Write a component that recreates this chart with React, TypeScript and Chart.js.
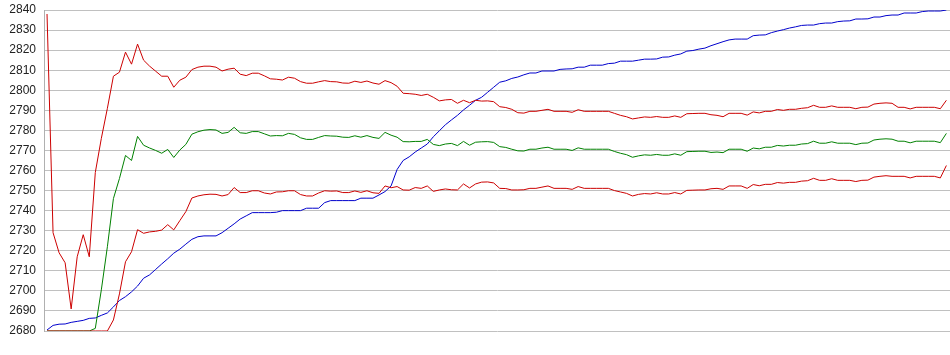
import React, { useEffect, useRef } from "react";
import { Chart, registerables } from "chart.js";

Chart.register(...registerables);

const yTicks = [2680, 2690, 2700, 2710, 2720, 2730, 2740, 2750, 2760, 2770, 2780, 2790, 2800, 2810, 2820, 2830, 2840];

const upperBand = [
  2838, 2729, 2719, 2714, 2691, 2717, 2728, 2717, 2759, 2776,
  2791, 2807, 2809, 2819, 2813, 2823, 2815, 2812, 2809.5, 2807,
  2807, 2801.5, 2805, 2806.5, 2810.3, 2811.5, 2812, 2812, 2811.5, 2809.6,
  2810.5, 2811, 2808, 2807.3, 2808.5, 2808.5, 2807.2, 2805.7, 2805.5, 2805.1,
  2806.5, 2806, 2804.3, 2803.5, 2803.5, 2804.2, 2804.8, 2804.3, 2804.2, 2803.6,
  2803.5, 2804.5, 2803.9, 2804.6, 2803.6, 2803, 2804.8, 2803.8, 2802, 2798.5,
  2798.3, 2798, 2797.4, 2798, 2796.5, 2794.7, 2795.2, 2795.4, 2793.5, 2795,
  2793.8, 2795, 2794.6, 2794.7, 2794.3, 2791.8, 2791.4, 2790.5, 2788.8, 2788.6,
  2789.5, 2789.5, 2790, 2790.5, 2789.5, 2789.5, 2789.5, 2789, 2790.3, 2789.5,
  2789.5, 2789.5, 2789.5, 2789.5, 2788.5, 2787.5, 2786.8, 2785.7, 2786.2, 2786.7,
  2786.5, 2786.9, 2786.5, 2786.5, 2787.2, 2786.5, 2788.3, 2788.4, 2788.5, 2788.5,
  2787.8, 2787.5, 2786.8, 2788.5, 2788.5, 2788.5, 2787.6, 2789.2, 2788.7, 2789.5,
  2789.5, 2790.4, 2790, 2790.5, 2790.5, 2791, 2791.3, 2792.5, 2791.5, 2791.5,
  2792.2, 2791.5, 2791.5, 2791.5, 2790.8, 2791.5, 2791.6, 2793.1, 2793.5, 2793.7,
  2793.5, 2791.5, 2791.5, 2790.7, 2791.5, 2791.5, 2791.5, 2791.5, 2790.8, 2795,
];

const middleLine = [
  2680, 2680, 2680, 2680, 2680, 2680, 2680, 2680, 2681.3, 2700.5,
  2722, 2746, 2756, 2767.5, 2765, 2777, 2772.6, 2771.2, 2770, 2768.6,
  2770.5, 2766.5, 2770.2, 2773, 2778.1, 2779.3, 2780.1, 2780.4, 2780.2, 2778.5,
  2779, 2781.5, 2778.8, 2778.5, 2779.4, 2779.4, 2778.3, 2777.2, 2777.4, 2777.3,
  2778.5, 2778, 2776.3, 2775.5, 2775.5, 2776.5, 2777.4, 2777.2, 2777.1, 2776.6,
  2776.5, 2777.3, 2776.6, 2777.4, 2776.5, 2776, 2779, 2777.6, 2776.6, 2774.4,
  2774.3, 2774.5, 2774.5, 2775.5, 2773, 2772.4, 2773.2, 2773.5, 2772.4, 2774.5,
  2772.6, 2774.1, 2774.3, 2774.4, 2774, 2771.9, 2771.5, 2770.6, 2769.8, 2769.7,
  2770.6, 2770.6, 2771.2, 2771.6, 2770.6, 2770.6, 2770.6, 2770, 2771.3, 2770.6,
  2770.6, 2770.6, 2770.6, 2770.6, 2769.5, 2768.6, 2767.9, 2766.6, 2767.3, 2767.8,
  2767.6, 2768, 2767.6, 2767.6, 2768.3, 2767.6, 2769.4, 2769.5, 2769.6, 2769.6,
  2769, 2769.2, 2768.9, 2770.6, 2770.6, 2770.6, 2769.6, 2771.2, 2770.8, 2771.6,
  2771.6, 2772.5, 2772.2, 2772.6, 2772.6, 2773.2, 2773.4, 2774.6, 2773.6, 2773.6,
  2774.3, 2773.6, 2773.6, 2773.6, 2772.9, 2773.6, 2773.7, 2775.2, 2775.6, 2775.8,
  2775.6, 2774.6, 2774.6, 2773.8, 2774.6, 2774.6, 2774.6, 2774.6, 2773.9, 2778.5,
];

const lowerBand = [
  2680, 2680, 2680, 2680, 2680, 2680, 2680, 2680, 2680, 2680,
  2680, 2685.5, 2698.5, 2714.5, 2719.5, 2730.5, 2728.7, 2729.4, 2729.7, 2730.3,
  2733, 2730.4, 2735, 2739.5, 2746.3, 2747.3, 2747.9, 2748.2, 2748.1, 2747.3,
  2748, 2751.5, 2749, 2749, 2749.9, 2749.9, 2748.8, 2748.3, 2749.3, 2749.4,
  2749.9, 2749.9, 2748, 2747.3, 2747.3, 2748.8, 2749.9, 2749.7, 2749.8, 2749,
  2749, 2749.8, 2749.1, 2749.9, 2748.9, 2748.6, 2752.3, 2751.4, 2752, 2750.3,
  2750.2, 2751.5, 2751.1, 2752.3, 2749.6, 2750.3, 2750.8, 2750.4, 2750.3, 2753.3,
  2751.3, 2753.3, 2754.2, 2754.3, 2753.8, 2751.1, 2751, 2750.3, 2750.3, 2750.4,
  2751.1, 2751.1, 2751.7, 2752.3, 2751.1, 2751.1, 2751.1, 2750.6, 2752, 2751.1,
  2751.1, 2751.1, 2751.1, 2751.1, 2750, 2749.3, 2748.6, 2747.3, 2748.1, 2748.5,
  2748.3, 2748.9, 2748.3, 2748.3, 2749, 2748.3, 2750.1, 2750.2, 2750.3, 2750.3,
  2750.9, 2751.1, 2750.6, 2752.3, 2752.3, 2752.3, 2751.1, 2753, 2752.4, 2753.1,
  2753.1, 2754, 2753.7, 2754.1, 2754.1, 2754.7, 2754.9, 2756.1, 2755.1, 2755.1,
  2755.9, 2755.1, 2755.1, 2755.1, 2754.5, 2755.1, 2755.2, 2756.7, 2757.1, 2757.4,
  2757.1, 2757.1, 2757.1, 2756.3, 2757.1, 2757.1, 2757.1, 2757.1, 2756.3, 2762.5,
];

const trendLine = [
  2680.5, 2682.8, 2683.4, 2683.5, 2684.3, 2684.8, 2685.3, 2686.3, 2686.5, 2687.8,
  2689, 2692, 2695.2, 2697.1, 2699.5, 2702.4, 2706.3, 2708, 2710.7, 2713.4,
  2716, 2718.8, 2720.8, 2723.3, 2725.7, 2727, 2727.4, 2727.4, 2727.4, 2729,
  2731.2, 2733.4, 2735.8, 2737.4, 2739, 2739, 2739, 2739, 2739.2, 2740,
  2740, 2740, 2740, 2741.2, 2741.2, 2741.2, 2744, 2745, 2745, 2745,
  2745, 2745, 2746.2, 2746.2, 2746.2, 2747.8, 2749.5, 2752.3, 2760.5, 2765,
  2766.8, 2769.2, 2771.2, 2773.2, 2776.8, 2779.8, 2782.8, 2785.2, 2787.5, 2790.2,
  2792.5, 2795, 2796.5, 2799, 2801.5, 2804, 2804.7, 2805.9, 2806.6, 2807.7,
  2808.6, 2808.6, 2809.6, 2809.6, 2809.6, 2810.4, 2810.6, 2810.7, 2811.5, 2811.5,
  2812.5, 2812.5, 2812.5, 2813.3, 2813.5, 2814.5, 2814.5, 2814.5, 2815, 2815.5,
  2815.5, 2815.6, 2816.5, 2816.6, 2817.5, 2818.1, 2819.5, 2819.8, 2820.5, 2821,
  2822.2, 2823.2, 2824.2, 2825.1, 2825.5, 2825.5, 2825.5, 2827.2, 2827.5, 2827.6,
  2828.7, 2829.5, 2830.2, 2831, 2831.6, 2832.3, 2832.5, 2832.5, 2833.2, 2833.5,
  2833.5, 2834.2, 2834.5, 2834.6, 2835.5, 2835.5, 2835.6, 2836.5, 2836.5, 2837.2,
  2837.5, 2837.5, 2838.5, 2838.5, 2838.5, 2839.2, 2839.5, 2839.5, 2839.5, 2840,
];

const toPoints = (arr: number[]) => arr.map((v, i) => ({ x: i, y: v }));

export default function App() {
  const ref = useRef<HTMLCanvasElement | null>(null);

  useEffect(() => {
    if (!ref.current) return;
    const n = trendLine.length;
    const chart = new Chart(ref.current, {
      type: "line",
      data: {
        datasets: [
          { data: toPoints(upperBand), borderColor: "#cc0000" },
          { data: toPoints(lowerBand), borderColor: "#cc0000" },
          { data: toPoints(middleLine), borderColor: "#008000" },
          { data: toPoints(trendLine), borderColor: "#0000cc" },
        ].map((d) => ({
          ...d,
          borderWidth: 1,
          pointRadius: 0,
          tension: 0,
          fill: false,
        })),
      },
      options: {
        responsive: false,
        animation: false,
        events: [],
        layout: { padding: { left: 9, top: 10, right: 0, bottom: 24 } },
        plugins: { legend: { display: false }, tooltip: { enabled: false } },
        scales: {
          x: {
            type: "linear",
            min: -0.5,
            max: n - 1 + 0.6,
            display: false,
          },
          y: {
            type: "linear",
            min: yTicks[0],
            max: yTicks[yTicks.length - 1],
            afterBuildTicks: (axis: any) => {
              axis.ticks = yTicks.map((v) => ({ value: v }));
            },
            afterFit: (axis: any) => {
              axis.paddingTop = 0;
              axis.paddingBottom = 0;
              axis.width = 35;
            },
            ticks: {
              padding: 8,
              color: "#222",
              font: { family: "'Liberation Sans', Arial, sans-serif", size: 12 },
              callback: (v: any) => String(v),
            },
            grid: { color: "#c0c0c0", drawTicks: false, tickLength: 0, lineWidth: 1 },
            border: { display: true, color: "#b0b0b0" },
          },
        },
      },
    });
    return () => chart.destroy();
  }, []);

  return (
    <div style={{ position: "fixed", left: 0, top: 0, width: 950, height: 355, background: "#fff" }}>
      <canvas ref={ref} width={950} height={355} style={{ width: 950, height: 355 }} />
    </div>
  );
}
